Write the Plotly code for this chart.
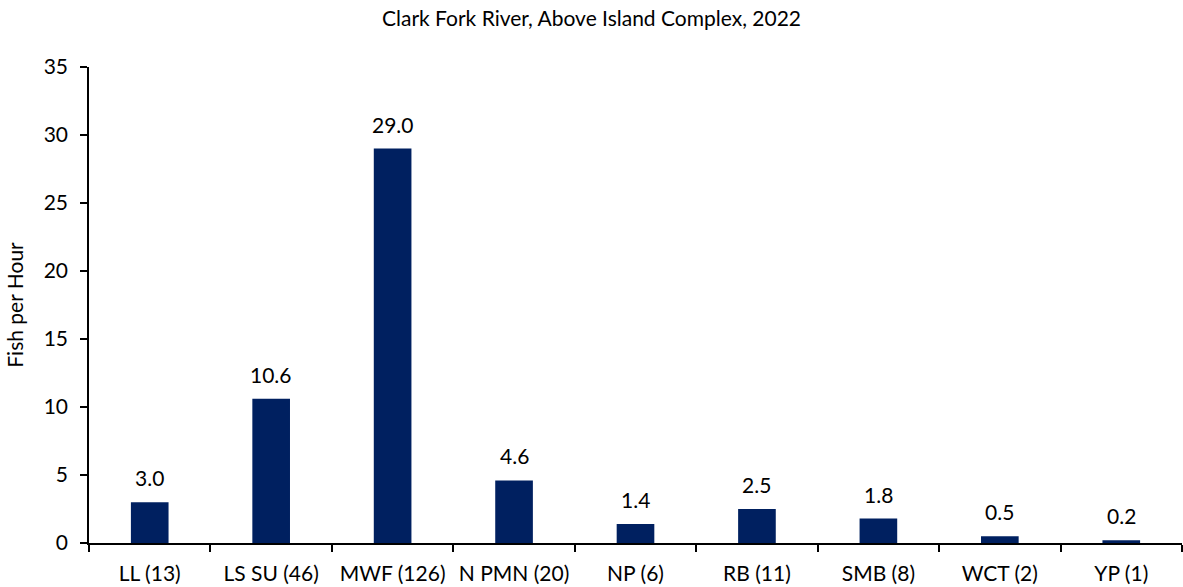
import plotly.graph_objects as go

categories = ["LL (13)", "LS SU (46)", "MWF (126)", "N PMN (20)", "NP (6)", "RB (11)", "SMB (8)", "WCT (2)", "YP (1)"]
values = [3.0, 10.6, 29.0, 4.6, 1.4, 2.5, 1.8, 0.5, 0.2]
title = "Clark Fork River, Above Island Complex, 2022"
y_title = "Fish per Hour"
y_ticks = [0, 5, 10, 15, 20, 25, 30, 35]

FONT = "Lato"
FS = 21

fig = go.Figure(go.Bar(
    x=categories, y=values,
    marker=dict(color="#002060", line=dict(width=0)),
    width=0.31,
    cliponaxis=False,
))

for c, v in zip(categories, values):
    fig.add_annotation(x=c, y=v, text=f"{v:.1f}", showarrow=False,
                       yanchor="bottom", yshift=10,
                       font=dict(family=FONT, size=FS, color="black"))

fig.update_layout(
    width=1183, height=587,
    margin=dict(l=89, r=1, t=67, b=44),
    plot_bgcolor="white", paper_bgcolor="white",
    showlegend=False,
    font=dict(family=FONT, size=FS, color="black"),
    title=dict(text=title, x=0.5, xanchor="center", y=1 - 19/587, yanchor="middle",
               font=dict(family=FONT, size=FS, color="black")),
    bargap=0.69,
)
fig.update_xaxes(
    showline=True, linecolor="black", linewidth=1.5,
    ticks="outside", ticklen=7, tickwidth=1.5, tickcolor="black",
    tickson="boundaries", showgrid=False,
    tickfont=dict(family=FONT, size=FS),
    ticklabelstandoff=11,
)
fig.update_yaxes(
    range=[0, 35], tickvals=y_ticks,
    showline=True, linecolor="black", linewidth=1.5,
    ticks="outside", ticklen=7, tickwidth=1.5, tickcolor="black",
    showgrid=False, zeroline=False,
    title=dict(text=y_title, font=dict(family=FONT, size=FS), standoff=14),
    tickfont=dict(family=FONT, size=FS),
    ticklabelstandoff=8,
)

fig.write_html("out.html")
